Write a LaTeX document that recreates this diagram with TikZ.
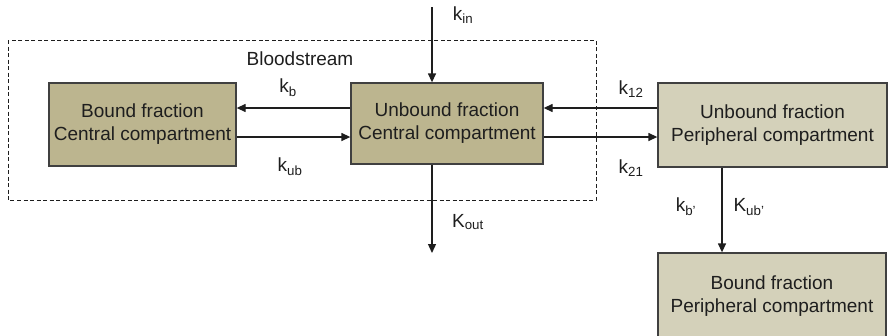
\documentclass[tikz,border=0pt]{standalone}
\usepackage{fontspec}
\setmainfont{Liberation Sans}
\usetikzlibrary{arrows.meta}
\definecolor{darkfill}{RGB}{188,181,143}
\definecolor{lightfill}{RGB}{212,209,186}
\definecolor{ink}{RGB}{30,30,30}
\tikzset{
  comp/.style={draw=ink!85, line width=1.3pt, align=center, inner sep=0pt,
    font=\fontsize{19}{23}\selectfont, text=ink},
  arr/.style={draw=ink, line width=1.3pt, -{Triangle[length=9pt,width=8pt]}},
  lbl/.style={font=\fontsize{19}{22}\selectfont, text=ink, inner sep=0pt},
  region/.style={draw=ink, line width=1pt, dash pattern=on 4pt off 2.5pt}
}
\begin{document}
\begin{tikzpicture}[x=1pt,y=-1pt]
\useasboundingbox (0,0) rectangle (888,335);
\clip (0,0) rectangle (888,335);

% bloodstream region
\draw[region] (8,40) rectangle (596,200);
\node[lbl] (blood) at (300,59) {Bloodstream};

% compartments
\node[comp, fill=darkfill, minimum width=187pt, minimum height=83pt] (bc) at (142.5,124.5)
  {Bound fraction\\Central compartment};
\node[comp, fill=darkfill, minimum width=192pt, minimum height=81pt] (uc) at (447,123.5)
  {Unbound fraction\\Central compartment};
\node[comp, fill=lightfill, minimum width=229pt, minimum height=84pt] (up) at (772.5,125)
  {Unbound fraction\\Peripheral compartment};
\node[comp, fill=lightfill, minimum width=228pt, minimum height=86pt] (bp) at (772,296)
  {Bound fraction\\Peripheral compartment};

% input and output
\coordinate (src) at (432,7);
\coordinate (sink) at (432,253);
\draw[arr] (src) -- (src |- uc.north);
\draw[arr] (sink |- uc.south) -- (sink);

% central exchanges
\draw[arr] (uc.west |- 0,108) -- (bc.east |- 0,108);
\draw[arr] (bc.east |- 0,137) -- (uc.west |- 0,137);
\draw[arr] (up.west |- 0,108) -- (uc.east |- 0,108);
\draw[arr] (uc.east |- 0,137) -- (up.west |- 0,137);

% peripheral binding
\draw[arr] (up.south -| 722,0) -- (bp.north -| 722,0);

% rate constants
\node[lbl] (kin) at (463,15) {k\textsubscript{in}};
\node[lbl] (kout) at (468,222) {K\textsubscript{out}};
\node[lbl] (kb) at (288,88) {k\textsubscript{b}};
\node[lbl] (kub) at (290,167) {k\textsubscript{ub}};
\node[lbl] (k12) at (631,89) {k\textsubscript{12}};
\node[lbl] (k21) at (631,168) {k\textsubscript{21}};
\node[lbl] (kbp) at (686,207) {k\textsubscript{b’}};
\node[lbl] (kubp) at (749,207) {K\textsubscript{ub’}};
\end{tikzpicture}
\end{document}
